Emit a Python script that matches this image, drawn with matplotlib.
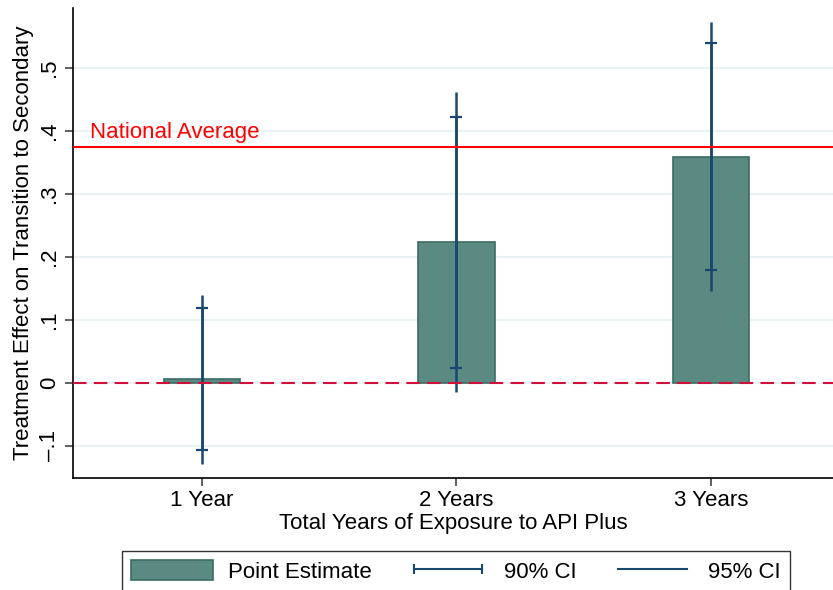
import matplotlib

matplotlib.use('Agg')
import matplotlib.pyplot as plt
from matplotlib.patches import Patch
from matplotlib.lines import Line2D

plt.rcParams['font.family'] = ['Liberation Sans', 'DejaVu Sans']

categories = ["1 Year", "2 Years", "3 Years"]
estimates = [0.006, 0.223, 0.358]
ci90_lo = [-0.107, 0.023, 0.179]
ci90_hi = [0.119, 0.422, 0.539]
ci95_lo = [-0.129, -0.015, 0.145]
ci95_hi = [0.140, 0.461, 0.573]
national_avg = 0.374
yticks = [-0.1, 0, 0.1, 0.2, 0.3, 0.4, 0.5]
ytick_labels = ["\u2013.1", "0", ".1", ".2", ".3", ".4", ".5"]

bar_col = "#5a8a82"
bar_edge = "#3b6c64"
ci_col = "#1a476f"
fs = 16

fig = plt.figure(figsize=(8.33, 5.9), dpi=100)
ax = fig.add_axes([0.0876, 0.19, 0.9124, 0.7964])

x = [1, 2, 3]
ax.bar(x, estimates, width=0.3, color=bar_col, edgecolor=bar_edge, linewidth=1.2, zorder=3)

# 95% CI plain lines, 90% CI with caps
ax.vlines(x, ci95_lo, ci95_hi, color=ci_col, linewidth=1.8, zorder=4)
mid = [(a + b) / 2 for a, b in zip(ci90_lo, ci90_hi)]
half = [(b - a) / 2 for a, b in zip(ci90_lo, ci90_hi)]
ax.errorbar(x, mid, yerr=half, fmt='none', ecolor=ci_col, elinewidth=1.8,
            capsize=4.2, capthick=1.6, zorder=4)

ax.axhline(0, color="#d0103a", linestyle=(0, (6.5, 3.5)), linewidth=1.5, zorder=5)
ax.axhline(national_avg, color="#ff0000", linewidth=1.5, zorder=5)
ax.text(0.56, national_avg + 0.007, "National Average", color="#ff0000", fontsize=fs,
        va='bottom', ha='left')

ax.set_xlim(0.493, 3.48)
ax.set_ylim(-0.151, 0.595)
ax.set_xticks(x)
ax.set_xticklabels(categories, fontsize=fs)
ax.set_yticks(yticks)
ax.set_yticklabels(ytick_labels, fontsize=fs, rotation=90, va='center')
ax.yaxis.grid(True, color="#eaf2f3", linewidth=1.5, zorder=0)
ax.set_axisbelow(True)
ax.tick_params(axis='both', direction='out', length=6, color="#444444", width=1.2)
ax.tick_params(axis='y', pad=3)
ax.tick_params(axis='x', pad=3)

for s in ['top', 'right']:
    ax.spines[s].set_visible(False)
ax.spines['left'].set_linewidth(1.2)
ax.spines['bottom'].set_linewidth(1.2)

ax.set_xlabel("Total Years of Exposure to API Plus", fontsize=fs, labelpad=1)
ax.set_ylabel("Treatment Effect on Transition to Secondary", fontsize=fs, labelpad=4)

handles = [
    Patch(facecolor=bar_col, edgecolor=bar_edge, linewidth=1.2),
    Line2D([0], [0], color=ci_col, linewidth=1.5, marker='|', markersize=7, markeredgewidth=1.5),
    Line2D([0], [0], color=ci_col, linewidth=1.5),
]
leg = fig.legend(handles, ["Point Estimate", "90% CI", "95% CI"], loc='upper center',
                 bbox_to_anchor=(0.5474, 0.066), ncol=3, fontsize=fs, numpoints=2,
                 frameon=True, fancybox=False, edgecolor='black', handlelength=3.7,
                 handleheight=1.02, columnspacing=1.6, borderpad=0.4, handletextpad=0.65,
                 borderaxespad=0)
leg.get_frame().set_linewidth(1.0)

fig.savefig("out.png", dpi=100)
